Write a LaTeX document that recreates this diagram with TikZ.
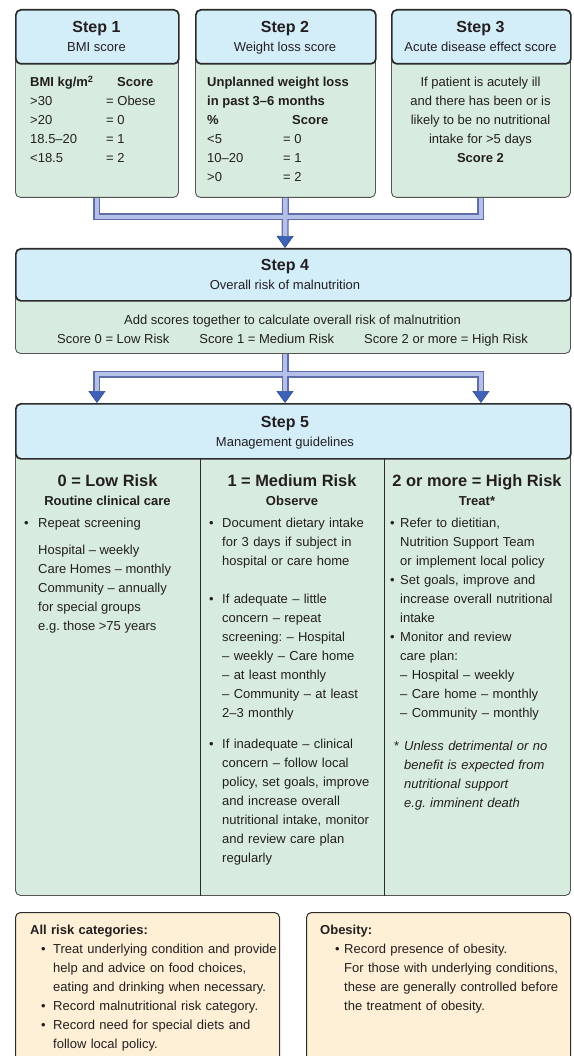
\documentclass[tikz,border=0pt]{standalone}
\usepackage{fontspec}
\setmainfont{Liberation Sans}
\usetikzlibrary{positioning, arrows.meta, calc}
\definecolor{mustblue}{HTML}{D3EDF9}
\definecolor{mustgreen}{HTML}{D7EBDE}
\definecolor{mustpeach}{HTML}{FEF0D6}
\definecolor{mustline}{HTML}{2B2B2B}
\definecolor{mustgrey}{HTML}{555555}
\definecolor{mustink}{HTML}{231F20}
\definecolor{pipeedge}{HTML}{5F6DA8}
\definecolor{pipefill}{HTML}{B5C0E8}
\definecolor{tipblue}{HTML}{3D62B6}
\definecolor{tipedge}{HTML}{2B4A8F}
\newcommand{\bodyfont}{\fontsize{13}{19}\selectfont\frenchspacing}
\newcommand{\stepfont}{\fontsize{16}{19}\selectfont\bfseries}
\newcommand{\riskfont}{\fontsize{16.4}{19}\selectfont\bfseries}
\newcommand{\bpt}[2]{\noindent\hangindent=#2\hangafter=1\hspace*{#1}\makebox[\dimexpr#2-#1\relax][l]{\textbullet}}

\begin{document}
\begin{tikzpicture}[x=1pt, y=-1pt, every node/.style={text=mustink},
    headbox/.style={draw=mustline, line width=1.7pt, fill=mustblue, rounded corners=5pt, inner sep=0pt, anchor=north west},
    bodybox/.style={draw=mustgrey, line width=0.9pt, fill=mustgreen, rounded corners=5pt, inner sep=0pt, anchor=north west},
    notebox/.style={draw=mustline, line width=1pt, fill=mustpeach, rounded corners=5pt, inner sep=0pt, anchor=north west},
    steptitle/.style={anchor=north, inner sep=0pt, align=center, font=\bodyfont},
    txtlines/.style={anchor=north west, inner sep=0pt, align=left, font=\bodyfont},
    clines/.style={anchor=north, inner sep=0pt, align=center, font=\bodyfont},
    listbox/.style={anchor=north west, inner sep=0pt, align=left, text width=#1, font=\bodyfont},
    pipeout/.style={line width=7pt, draw=pipeedge},
    pipein/.style={line width=4.4pt, draw=pipefill},
    pipetip/.style={-{Triangle[length=12pt, width=17pt, fill=tipblue, color=tipedge, line width=0.6pt]}},
    divider/.style={draw=mustline, line width=1pt}]
  \useasboundingbox (0,0) rectangle (573,1056);
  \clip (0,0) rectangle (573,1056);

  % steps 1-3
  \node[bodybox, minimum width=163pt, minimum height=168pt] (s1body) at (15,29) {};
  \node[bodybox, minimum width=180pt, minimum height=168pt] (s2body) at (195,29) {};
  \node[bodybox, minimum width=179pt, minimum height=168pt] (s3body) at (391,29) {};
  \node[headbox, minimum width=163pt, minimum height=54pt] (s1head) at (15,9) {};
  \node[headbox, minimum width=180pt, minimum height=54pt] (s2head) at (195,9) {};
  \node[headbox, minimum width=179pt, minimum height=54pt] (s3head) at (391,9) {};
  \node[steptitle] (s1title) at (96.5,21) {{\stepfont Step 1}\\BMI score};
  \node[steptitle] (s2title) at (285,21) {{\stepfont Step 2}\\Weight loss score};
  \node[steptitle] (s3title) at (480.5,21) {{\stepfont Step 3}\\Acute disease effect score};

  \node[txtlines] (s1lab) at (30,77) {\textbf{BMI kg/m\smash{\textsuperscript{2}}}\\>30\\>20\\18.5–20\\<18.5};
  \node[txtlines, font=\bodyfont\bfseries] (s1score) at (117,77) {Score};
  \node[txtlines] (s1val) at (106,96) {= Obese\\= 0\\= 1\\= 2};

  \node[txtlines, font=\bodyfont\bfseries] (s2lab) at (207,77) {Unplanned weight loss\\in past 3–6 months\\\%};
  \node[txtlines, font=\bodyfont\bfseries] (s2score) at (292,115) {Score};
  \node[txtlines] (s2pct) at (207,134) {<5\\10–20\\>0};
  \node[txtlines] (s2val) at (283,134) {= 0\\= 1\\= 2};

  \node[clines] (s3txt) at (480.5,77) {If patient is acutely ill\\and there has been or is\\likely to be no nutritional\\intake for >5 days\\\textbf{Score 2}};

  % step 4
  \node[bodybox, minimum width=555pt, minimum height=85pt] (s4body) at (15,268) {};
  \node[headbox, minimum width=555pt, minimum height=52pt] (s4head) at (15,248) {};
  \node[steptitle] (s4title) at (285,259) {{\stepfont Step 4}\\Overall risk of malnutrition};
  \node[clines] (s4txt) at (292.5,315) {Add scores together to calculate overall risk of malnutrition\\Score 0 = Low Risk\hspace{30pt}Score 1 = Medium Risk\hspace{30pt}Score 2 or more = High Risk};

  % step 5
  \node[bodybox, minimum width=555pt, minimum height=475pt] (s5body) at (15,420) {};
  \draw[divider] ($(s5body.north west)+(185,38)$) -- ($(s5body.south west)+(185,0)$);
  \draw[divider] ($(s5body.north west)+(369,38)$) -- ($(s5body.south west)+(369,0)$);
  \node[headbox, minimum width=555pt, minimum height=55pt] (s5head) at (15,403) {};
  \node[steptitle] (s5title) at (285,416) {{\stepfont Step 5}\\Management guidelines};

  \node[clines, font=\bodyfont\bfseries] (lowhead) at (107.5,474) {{\riskfont 0 = Low Risk}\\Routine clinical care};
  \node[clines, font=\bodyfont\bfseries] (medhead) at (292,474) {{\riskfont 1 = Medium Risk}\\Observe};
  \node[clines, font=\bodyfont\bfseries] (highhead) at (477,474) {{\riskfont 2 or more = High Risk}\\Treat*};

  \node[listbox=175pt] (lowlist) at (24,518) {\bpt{0pt}{14pt}Repeat screening\par};
  \node[txtlines] (lowfreq) at (38,545) {Hospital – weekly\\Care Homes – monthly\\Community – annually\\for special groups\\e.g. those >75 years};

  \node[listbox=172pt] (medlist) at (209,518) {%
    \bpt{0pt}{13pt}Document dietary intake\newline for 3 days if subject in\newline hospital or care home
    \par\vspace{19pt}
    \bpt{0pt}{13pt}If adequate – little\newline concern – repeat\newline screening: – Hospital\newline – weekly – Care home\newline – at least monthly\newline – Community – at least\newline 2–3 monthly
    \par\vspace{12pt}
    \bpt{0pt}{13pt}If inadequate – clinical\newline concern – follow local\newline policy, set goals, improve\newline and increase overall\newline nutritional intake, monitor\newline and review care plan\newline regularly\par};

  \node[listbox=178pt] (highlist) at (390,518) {%
    \bpt{0pt}{10pt}Refer to dietitian,\newline Nutrition Support Team\newline or implement local policy
    \par
    \bpt{0pt}{10pt}Set goals, improve and\newline increase overall nutritional\newline intake
    \par
    \bpt{0pt}{10pt}Monitor and review\newline care plan:\newline – Hospital – weekly\newline – Care home – monthly\newline – Community – monthly
    \par\vspace{14pt}
    \noindent\hangindent=14pt\hangafter=1\hspace*{4pt}\makebox[10pt][l]{*}\textit{Unless detrimental or no\newline benefit is expected from\newline nutritional support\newline e.g. imminent death}\par};

  % notes
  \node[notebox, minimum width=264pt, minimum height=200pt] (allbox) at (15,912) {};
  \node[notebox, minimum width=264pt, minimum height=200pt] (obebox) at (306,912) {};
  \node[listbox=250pt] (alltxt) at (30,925) {\noindent\textbf{All risk categories:}
    \par
    \bpt{11pt}{23pt}Treat underlying condition and provide\newline help and advice on food choices,\newline eating and drinking when necessary.
    \par
    \bpt{11pt}{23pt}Record malnutritional risk category.
    \par
    \bpt{11pt}{23pt}Record need for special diets and\newline follow local policy.\par};
  \node[listbox=245pt] (obetxt) at (320,925) {\noindent\textbf{Obesity:}
    \par
    \bpt{15pt}{24pt}Record presence of obesity.\newline For those with underlying conditions,\newline these are generally controlled before\newline the treatment of obesity.\par};

  % pipes
  \coordinate (j1) at (285,217);
  \coordinate (j2) at (285,374);
  \draw[pipeout] (s1body.south) |- (j1);
  \draw[pipeout] (s3body.south) |- (j1);
  \draw[pipeout, pipetip] (s2body.south) -- (s4head.north -| j1);
  \draw[pipeout, pipetip] (s4body.south -| j2) -- (j2 |- s5head.north);
  \draw[pipeout, pipetip] (j2) -| (s1body.south |- s5head.north);
  \draw[pipeout, pipetip] (j2) -| (s3body.south |- s5head.north);
  \draw[pipein] (s1body.south) |- (j1);
  \draw[pipein] (s3body.south) |- (j1);
  \draw[pipein, shorten >=12pt] (s2body.south) -- (s4head.north -| j1);
  \draw[pipein, shorten >=12pt] (s4body.south -| j2) -- (j2 |- s5head.north);
  \draw[pipein, shorten >=12pt] (j2) -| (s1body.south |- s5head.north);
  \draw[pipein, shorten >=12pt] (j2) -| (s3body.south |- s5head.north);
\end{tikzpicture}
\end{document}
